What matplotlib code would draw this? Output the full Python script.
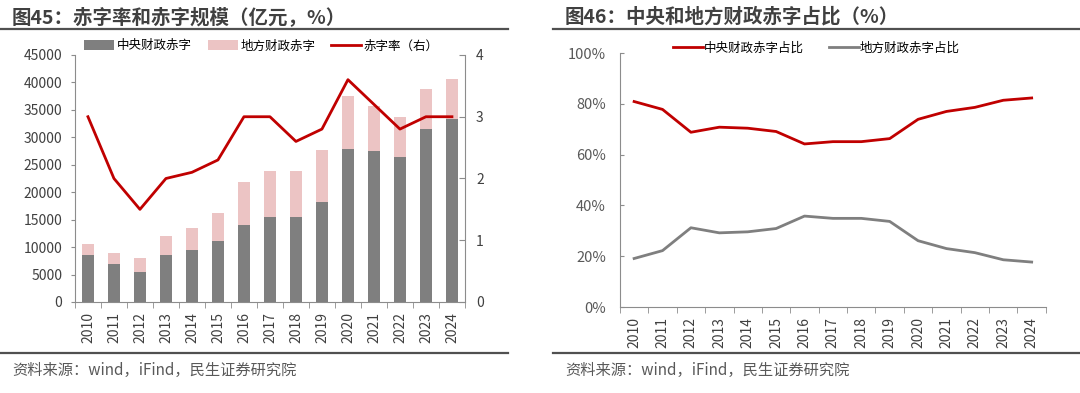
import matplotlib
matplotlib.use('Agg')
from matplotlib import pyplot as plt
from matplotlib.lines import Line2D
import numpy as np

plt.rcParams['font.family'] = ['Noto Sans CJK SC', 'DejaVu Sans']

years = ['2010', '2011', '2012', '2013', '2014', '2015', '2016', '2017',
         '2018', '2019', '2020', '2021', '2022', '2023', '2024']
# 亿元
central = [8500, 7000, 5500, 8500, 9500, 11200, 14000, 15500,
           15500, 18300, 27800, 27500, 26500, 31600, 33400]
local = [2000, 2000, 2500, 3500, 4000, 5000, 7800, 8300,
         8300, 9300, 9800, 8200, 7200, 7200, 7200]
# %
deficit_rate = [3.0, 2.0, 1.5, 2.0, 2.1, 2.3, 3.0, 3.0,
                2.6, 2.8, 3.6, 3.2, 2.8, 3.0, 3.0]
central_share = [80.9, 77.8, 68.8, 70.8, 70.4, 69.1, 64.2, 65.1,
                 65.1, 66.3, 73.9, 77.0, 78.6, 81.4, 82.3]
local_share = [19.1, 22.2, 31.2, 29.2, 29.6, 30.9, 35.8, 34.9,
               34.9, 33.7, 26.1, 23.0, 21.4, 18.6, 17.7]

RED = '#c00000'
DGREY = '#7f7f7f'
PINK = '#ecc4c4'
SPINE = '#8c8c8c'
TXT = '#404040'

fig = plt.figure(figsize=(10.8, 3.93), dpi=100)
x = np.arange(len(years))

# 标题和分隔线
fig.text(12 / 1080, 0.957, '图45：赤字率和赤字规模（亿元，%）', fontsize=14,
         fontweight='bold', color=TXT, va='center')
fig.text(565 / 1080, 0.957, '图46：中央和地方财政赤字占比（%）', fontsize=14,
         fontweight='bold', color=TXT, va='center')
for x0, x1 in [(0, 508 / 1080), (553 / 1080, 1.0)]:
    fig.add_artist(Line2D([x0, x1], [0.926, 0.926], color='#505050', lw=1.6))
    fig.add_artist(Line2D([x0, x1], [0.102, 0.102], color='#505050', lw=1.6))
fig.text(12 / 1080, 0.058, '资料来源：wind，iFind，民生证券研究院', fontsize=11,
         color='#595959', va='center')
fig.text(565 / 1080, 0.058, '资料来源：wind，iFind，民生证券研究院', fontsize=11,
         color='#595959', va='center')


def style_xaxis(ax):
    ax.set_xlim(-0.5, len(years) - 0.5)
    ax.set_xticks(x)
    ax.set_xticklabels(years, rotation=90, fontsize=10, color=TXT)
    ax.tick_params(axis='x', which='major', length=0, pad=7)
    ax.set_xticks(np.arange(-0.5, len(years), 1), minor=True)
    ax.tick_params(axis='x', which='minor', length=4, color=SPINE, direction='out')


# 左图: 赤字规模
ax1 = fig.add_axes([0.0694, 0.2316, 0.3611, 0.6285])
b1 = ax1.bar(x, central, width=0.43, color=DGREY, label='中央财政赤字')
b2 = ax1.bar(x, local, width=0.43, bottom=central, color=PINK, label='地方财政赤字')
ax1.set_ylim(0, 45000)
ax1.set_yticks(range(0, 45001, 5000))
ax1.tick_params(axis='y', direction='out', length=3, color=SPINE, labelsize=10,
                labelcolor=TXT, pad=6)
style_xaxis(ax1)
for s in ['top', 'right']:
    ax1.spines[s].set_visible(False)
for s in ['left', 'bottom']:
    ax1.spines[s].set_color(SPINE)

ax2 = ax1.twinx()
l1, = ax2.plot(x, deficit_rate, color=RED, lw=2, label='赤字率（右）')
ax2.set_ylim(0, 4)
ax2.set_yticks([0, 1, 2, 3, 4])
ax2.tick_params(axis='y', direction='in', length=4, color=SPINE, labelsize=10,
                labelcolor=TXT, pad=8)
for s in ['top', 'left', 'bottom']:
    ax2.spines[s].set_visible(False)
ax2.spines['right'].set_color(SPINE)
ax1.legend(handles=[b1, b2, l1], loc='lower center', bbox_to_anchor=(0.478, 0.99),
           ncol=3, frameon=False, fontsize=9, handlelength=2.4, handleheight=0.9,
           columnspacing=1.3, handletextpad=0.2, borderaxespad=0)

# 右图: 占比
ax3 = fig.add_axes([0.574, 0.2188, 0.3944, 0.6463])
ax3.plot(x, central_share, color=RED, lw=2, label='中央财政赤字占比')
ax3.plot(x, local_share, color=DGREY, lw=2, label='地方财政赤字占比')
ax3.set_ylim(0, 100)
ax3.set_yticks(range(0, 101, 20))
ax3.set_yticklabels([f'{v}%' for v in range(0, 101, 20)])
ax3.tick_params(axis='y', direction='in', length=3, color=SPINE, labelsize=10.5,
                labelcolor='#595959', pad=10)
style_xaxis(ax3)
for s in ['top', 'right']:
    ax3.spines[s].set_visible(False)
for s in ['left', 'bottom']:
    ax3.spines[s].set_color(SPINE)
ax3.legend(loc='lower center', bbox_to_anchor=(0.461, 0.975), ncol=2, frameon=False,
           fontsize=9, handlelength=2.4, columnspacing=2.0, handletextpad=0.1,
           borderaxespad=0)

fig.savefig('out.png', dpi=100)
